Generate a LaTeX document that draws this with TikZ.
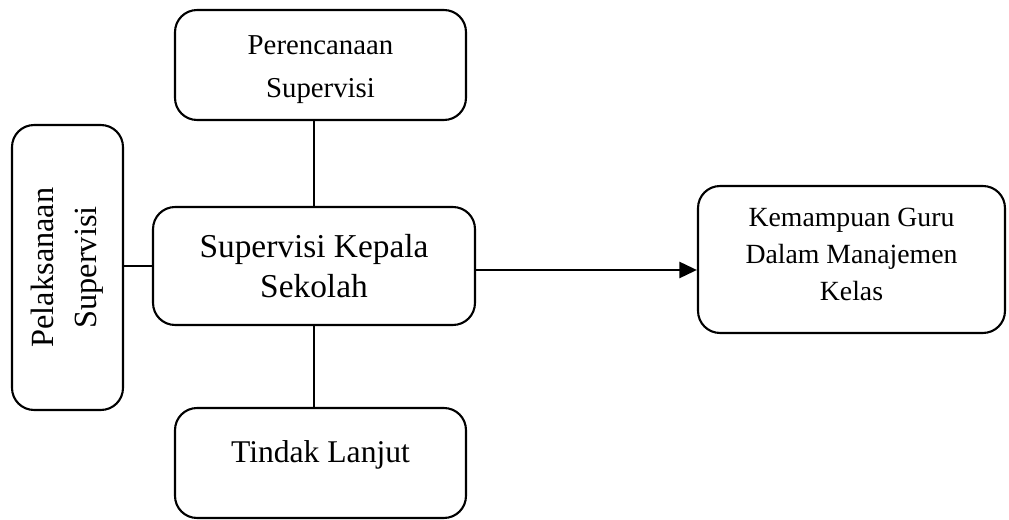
\documentclass[tikz,border=0pt]{standalone}
\usepackage{fontspec}
\setmainfont{Liberation Serif}
\usetikzlibrary{positioning,arrows.meta}

\begin{document}
\begin{tikzpicture}[x=0.02cm, y=-0.02cm,
        box/.style={draw, line width=1.2pt, rounded corners=0.44cm, align=center, inner sep=0pt},
        link/.style={line width=0.6pt}]
        \useasboundingbox (0,0) rectangle (1009,520);
        % the boxes
        \node[box, minimum width=5.82cm, minimum height=2.2cm, font=\fontsize{16.4}{24}\selectfont] (plan) at (320.5,65) {\rule{0pt}{16pt}Perencanaan\\Supervisi};
        \node[box, minimum width=6.44cm, minimum height=2.36cm, font=\fontsize{19}{22.5}\selectfont] (sup) at (314,266) {Supervisi Kepala\\Sekolah};
        \node[box, minimum width=5.82cm, minimum height=2.2cm, font=\fontsize{18}{22}\selectfont] (tindak) at (320.5,463) {Tindak Lanjut\rule[-13pt]{0pt}{13pt}};
        \node[box, rotate=90, minimum width=5.7cm, minimum height=2.22cm, font=\fontsize{18.4}{24.5}\selectfont] (pel) at (67.5,267.5) {Pelaksanaan\\Supervisi};
        \node[box, minimum width=6.14cm, minimum height=2.94cm, font=\fontsize{15.8}{21}\selectfont] (kem) at (851.5,259.5) {Kemampuan Guru\\Dalam Manajemen\\Kelas\rule[-6pt]{0pt}{6pt}};
        % connectors
        \draw[link] (sup.north) -- (sup.north |- plan.south);
        \draw[link] (sup.south) -- (sup.south |- tindak.north);
        \draw[link] (sup.west) -- (sup.west -| pel.south);
        \draw[-{Triangle[length=10pt,width=9pt]}, line width=1.7pt] ([yshift=-0.08cm]sup.east) -- ([yshift=-0.08cm]sup.east -| kem.west);
\end{tikzpicture}
\end{document}
